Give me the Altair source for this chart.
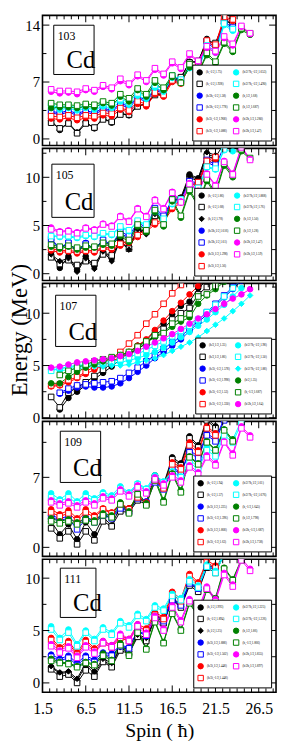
import altair as alt
import pandas as pd

FONT = "Liberation Serif"

# ---------------- x axis -----------------
SPIN_LABELS = [1.5, 6.5, 11.5, 16.5, 21.5, 26.5]
SPIN_RANGE = [1.5, 28.5]

BLACK, BLUE, RED = "#000000", "#0000ff", "#ff0000"
CYAN, GREEN, MAGENTA = "#00ffff", "#008000", "#ff00ff"

# ---------------- 103Cd  (values from spin 2.5 upward, step 1) ----------------
cd103_black_o = [2.3,1.1,2.0,0.8,2.1,1.3,2.6,2.0,3.2,2.9,4.2,4.2,5.5,5.5,7.3,7.4,9.5,9.4,12.3,11.6,14.6,14.2]
cd103_black_s = [2.0,1.3,1.9,0.7,1.9,1.4,2.4,2.1,3.0,3.0,4.0,4.3,5.4,5.6,7.2,7.6,9.4,9.6,12.0,11.8,14.4,14.3]
cd103_blue_o = [3.2,3.0,3.3,2.9,3.3,3.0,3.6,3.3,4.2,3.8,5.0,4.6,6.0,5.6,7.3,7.0,8.8,8.6,11.8,11.1,14.2,13.5]
cd103_blue_s = [3.4,3.2,3.5,3.1,3.5,3.2,3.8,3.5,4.4,4.0,5.2,4.8,6.2,5.8,7.5,7.2,9.0,8.8,12.0,11.3,14.4,13.7]
cd103_red_o = [2.5,2.4,2.6,2.3,2.6,2.5,2.9,2.8,3.6,3.3,4.3,4.0,5.5,5.2,7.0,6.8,8.9,8.9,11.9,11.4,14.8,14.5]
cd103_red_s = [2.8,2.7,2.9,2.6,2.9,2.8,3.2,3.1,3.8,3.5,4.6,4.3,5.7,5.4,7.2,7.0,9.1,9.0,12.1,11.6,15.0,14.7]
cd103_cyan_o = [3.8,3.6,3.8,3.5,3.8,3.6,4.0,3.8,4.6,4.2,5.3,4.9,6.3,5.8,7.5,7.1,8.7,8.5,11.3,10.6,14.0,13.3]
cd103_cyan_s = [4.1,3.9,4.1,3.8,4.1,3.9,4.3,4.1,4.9,4.5,5.6,5.2,6.6,6.1,7.8,7.3,8.9,8.7,11.5,10.8,14.2,13.5]
cd103_green_o = [3.8,3.9,3.9,3.8,4.0,3.9,4.4,4.1,5.2,4.6,6.0,5.2,6.9,6.0,7.6,7.0,8.8,8.1,10.3,9.3,11.7,10.7,13.4,12.8]
cd103_green_s = [4.4,4.2,4.2,4.1,4.3,4.2,4.6,4.4,5.5,5.0,6.2,5.5,7.2,6.3,7.8,6.9,9.2,8.0,10.6,9.5,11.9,10.9,13.6,13.0]
cd103_mag_o = [5.8,5.6,5.7,5.5,6.0,5.8,6.4,6.1,7.1,6.6,7.7,7.0,8.5,7.8,9.3,8.6,10.3,9.5,11.2,10.6,12.4,11.5,13.8,12.9]
cd103_mag_s = [6.1,5.9,5.9,5.8,6.2,6.0,6.6,6.3,7.4,6.8,7.9,7.2,8.7,8.0,9.5,8.8,10.5,9.6,11.4,10.8,12.6,11.7,13.9,13.0]
cd103_labels = ["(h,-1/2,1.75)", "(h,-1/2,1.928)", "(h/2h,-1/2,1.58)", "(h/2h,-1/2,1.778)",
                "(h/2i,-1/2,1.968)", "(h/2i,-1/2,1.088)", "(h/2/7h,-1/2,1.653)", "(h/2/7h,-1/2,1.490)",
                "(h,1/2,1.68)", "(h,1/2,1.687)", "(h/2h,1/2,1.280)", "(h/2h,1/2,1.47)"]

# ---------------- 105Cd ----------------
cd105_black_o = [2.2,0.6,1.8,0.4,1.8,0.8,2.5,1.6,3.7,2.8,4.7,4.3,6.4,5.5,7.6,7.9,10.3,9.9,12.4,12.1,13.5]
cd105_black_s = [1.7,1.0,1.4,0.9,1.3,1.1,2.0,1.9,3.2,2.6,4.5,4.4,6.0,5.6,7.5,7.8,10.0,9.6,12.2,11.9]
cd105_black_d = [2.0,1.3,1.6,0.2,1.6,0.5,2.3,1.3,3.5,2.5,4.6,4.1,6.2,5.3,7.4,7.6,10.1,9.8,12.6,12.3]
cd105_blue_o = [3.5,2.5,3.3,2.2,3.2,2.5,3.4,2.8,4.2,3.7,5.1,4.6,6.6,5.8,7.5,7.4,9.4,9.2,11.6,11.1,13.3]
cd105_blue_s = [3.6,2.7,3.2,2.4,3.1,2.6,3.5,3.0,4.4,3.9,5.3,4.8,6.8,6.0,7.7,7.6,9.6,9.4,11.8,11.3]
cd105_red_o = [2.4,2.2,2.3,2.1,2.3,2.2,2.6,2.5,2.9,3.2,3.8,4.4,5.1,5.4,6.7,7.4,8.9,9.3,11.5,11.9]
cd105_red_s = [2.6,2.4,2.4,2.3,2.4,2.4,2.7,2.7,3.1,3.4,4.0,4.6,5.3,5.6,6.9,7.6,9.1,9.5,11.7,12.1]
cd105_cyan_o = [4.0,3.8,3.8,3.7,3.9,3.8,4.1,4.0,4.8,4.4,5.4,5.0,6.4,5.6,7.2,7.6,9.0,8.8,11.0,10.8,12.8,12.7]
cd105_cyan_s = [3.9,3.9,3.9,3.8,4.0,3.9,4.2,4.1,4.9,4.5,5.5,5.1,6.5,5.7,7.3,7.7,9.1,8.9,11.1,10.9,12.9]
cd105_green_o = [2.8,2.6,2.8,2.5,2.7,2.7,3.0,2.9,3.9,3.3,4.9,4.3,6.4,4.9,7.5,5.8,8.5,7.0,9.6,8.2,11.2,10.0,12.7,11.9]
cd105_green_s = [3.0,2.8,2.9,2.7,2.9,2.8,3.2,3.1,4.1,3.5,5.1,4.5,6.6,5.1,7.7,6.0,8.7,7.2,9.8,8.4,11.4,10.2,12.9,12.0]
cd105_mag_o = [4.8,4.4,4.5,4.3,4.8,4.6,5.2,5.0,6.0,5.5,6.8,6.0,7.7,6.8,8.5,7.5,9.4,8.6,10.4,9.2,11.7,10.4,13.2,11.9]
cd105_mag_s = [4.6,4.3,4.4,4.2,4.7,4.5,5.1,4.9,5.9,5.4,6.7,5.9,7.6,6.7,8.4,7.4,9.3,8.5,10.3,9.1,11.6,10.3,13.1,11.8]
cd105_labels = ["(h,-1/2,1.86)", "(h,-1/2,1.68)", "(h,1/2,1.78)", "(h/2h,1/2,1.616)", "(h/2h,1/2,1.61)",
                "(h/2i,1/2,1.298)", "(h/2i,1/2,1.56)", "(h/2/7h,1/2,1.888)", "(h/2/7h,1/2,1.76)",
                "(h,1/2,1.50)", "(h,1/2,1.28)", "(h/2h,1/2,1.47)", "(h/2h,1/2,1.59)"]

# ---------------- 107Cd ----------------
cd107_black_o = [0.8,1.9,2.5,3.1,3.7,4.3,4.9,5.6,6.3,6.9,7.4,8.3,9.0,9.9,10.7,11.1,12.4,13.1]          # from 3.5
cd107_black_s = [2.0,1.0,2.4,2.9,3.4,4.0,4.6,5.2,5.8,6.1,6.6,7.1,7.9,8.5,9.4,10.0,10.5,11.8,12.5,13.2]  # from 2.5
cd107_blue_o = [2.3,2.6,2.9,3.0,2.9,2.9,3.0,3.3,3.8,4.4,5.0,5.7,6.3,6.9,7.5,8.3,9.1,9.9,10.7,11.5,12.3,13.1]  # from 3.5
cd107_blue_s = [2.4,2.8,3.1,3.2,3.3,3.4,3.5,3.8,4.3,4.8,5.4,6.0,6.6,7.2,7.8,8.5,9.3,10.1,10.9,11.7,12.5,13.3]  # from 3.5
cd107_red_o = [3.0,3.1,3.4,3.8,4.2,4.6,5.0,5.4,5.8,6.3,6.9,7.5,8.4,9.3,10.2,11.0,11.8,12.6,13.3]
cd107_red_s = [3.1,3.2,3.6,3.9,4.4,4.9,5.3,5.7,6.3,7.1,7.9,9.0,9.9,10.9,11.9,12.7,13.5]
cd107_cyan_o = [4.6,4.7,4.8,4.9,5.0,5.1,5.1,5.2,5.3,5.5,5.7,6.0,6.3,6.7,7.2,7.7,8.2,8.8,9.4,10.1,10.8,11.6,12.4]
cd107_cyan_s = [4.5,4.7,4.9,5.0,5.1,5.2,5.3,5.4,5.6,5.8,6.1,6.5,6.9,7.3,7.8,8.3,8.8,9.4,10.1,10.8,11.6,12.4,13.2]
cd107_cyan_d = [4.5,4.6,4.7,4.8,4.9,4.9,5.0,5.0,5.1,5.3,5.5,5.7,6.0,6.4,6.8,7.2,7.7,8.3,8.9,9.5,10.2,10.9,11.7]  # from 3.5
cd107_green_o = [3.3,3.3,3.9,4.4,4.8,5.1,5.4,5.7,6.0,6.2,6.6,7.2,7.7,8.1,8.7,9.2,9.6,10.9,11.7,12.3,13.0]
cd107_green_s = [4.1,4.5,4.8,5.1,5.4,5.6,5.8,6.0,6.3,6.8,7.3,7.9,8.1,9.0,9.5,9.9,11.6,11.8,12.6]  # from 3.5
cd107_mag_o = [4.8,4.9,5.1,5.3,5.4,5.5,5.6,5.7,5.9,6.1,6.4,6.8,7.2,7.6,8.0,8.5,9.0,9.5,9.9,10.4,10.9,11.4,11.8,12.3]
cd107_labels = ["(h/2,1/2,1.35)", "(h/2,1/2,1.86)", "(h/2i,-1/2,1.578)", "(h/2i,-1/2,1.998)",
                "(h/2i,-1/2,1.53)", "(h/2i,-1/2,1.330)", "(h/2/7h,-1/2,1.98)", "(h/2/7h,-1/2,1.50)",
                "(h/2/7h,-1/2,1.88)", "(h/2,1.35)", "(h,-1/2,1.687)", "(h/2h,1/2,1.64)"]

# ---------------- 109Cd ----------------
cd109_black_o = [2.6,1.3,2.3,0.8,2.5,1.3,3.0,2.2,4.1,3.9,4.9,4.5,7.2,6.3,9.0,8.4,11.1,10.2,12.9,12.1]
cd109_black_s = [1.9,0.9,1.6,0.3,1.6,0.7,2.6,2.1,3.6,3.5,4.7,4.3,7.0,6.1,8.8,8.2,10.9,10.0,12.7,11.9]
cd109_blue_o = [3.2,2.9,3.1,2.3,3.0,2.7,3.3,3.0,4.0,3.7,5.0,4.6,6.6,5.9,8.0,7.5,9.7,9.1,11.4,10.8,12.9]
cd109_blue_s = [3.0,2.7,2.9,1.8,2.8,2.5,3.2,2.9,3.9,3.6,4.9,4.5,6.5,5.8,7.8,7.4,9.5,8.9,11.2,10.6,12.7]
cd109_red_o = [3.8,3.3,3.7,2.9,3.8,3.2,3.9,3.5,4.4,3.9,5.1,4.5,6.8,6.0,8.5,8.0,10.5,9.7,12.1,11.4]
cd109_red_s = [3.5,3.1,3.4,2.7,3.5,3.0,3.8,3.4,4.3,3.8,5.0,4.4,6.7,5.9,8.3,7.8,10.2,9.5,11.9,11.2]
cd109_cyan_o = [5.4,4.8,5.4,4.6,5.4,4.9,5.5,5.2,6.1,5.5,6.4,5.9,7.2,6.6,7.6,7.1,8.8,8.0,10.0,9.4,11.5,10.8,12.7]
cd109_cyan_s = [5.0,4.6,5.0,4.4,5.0,4.7,5.3,5.0,5.9,5.4,6.3,5.8,7.0,6.5,7.5,7.0,8.5,7.8,9.7,9.1,11.2,10.5,12.4]
cd109_green_o = [2.9,2.6,2.8,2.5,2.9,2.7,3.4,3.2,4.5,3.6,5.5,4.4,6.9,4.7,7.4,5.7,9.1,8.4,10.6,9.8,11.8,10.8]
cd109_green_s = [2.6,2.4,2.6,2.3,2.7,2.5,3.2,3.0,4.3,3.4,5.3,4.2,6.7,4.5,7.3,5.5,9.0,8.3,10.5,9.7,11.7,10.6]
cd109_mag_o = [4.7,4.4,4.6,4.2,4.7,4.4,5.1,4.9,5.8,5.3,6.2,5.6,7.0,6.4,7.2,6.7,8.2,7.5,9.2,8.4,10.6,9.4,12.1,11.2]
cd109_mag_s = [4.5,4.2,4.4,4.0,4.5,4.2,4.9,4.7,5.6,5.1,6.0,5.4,6.8,6.2,7.0,6.5,8.0,7.3,9.0,8.2,10.5,9.2,11.9,11.0]
cd109_labels = ["(h,-1/2,1.94)", "(h,-1/2,1.57)", "(h/2i,1/2,1.225)", "(h/2i,-1/2,1.396)",
                "(h/2i,1/2,1.868)", "(h/2i,-1/2,1.63)", "(h/2/7h,1/2,1.61)", "(h/2/7h,-1/2,1.676)",
                "(h,-1/2,1.645)", "(h,1/2,1.798)", "(h/2h,-1/2,1.687)", "(h/2h,1/2,1.738)"]

# ---------------- 111Cd ----------------
cd111_black_o = [1.5,0.9,1.0,0.2,1.7,0.9,2.1,1.7,3.3,3.0,4.5,4.1,6.3,5.8,8.0,7.3,9.5,8.9,11.2,10.7,12.5]
cd111_black_s = [1.3,0.6,0.8,0.0,1.2,0.6,2.0,1.5,3.1,2.8,4.4,4.0,6.1,5.7,7.9,7.2,9.3,8.7,11.0,10.5,12.3]
cd111_black_d = [1.6,1.0,1.1,0.4,1.9,1.1,2.3,1.9,3.4,3.2,4.6,4.3,6.4,6.0,8.1,7.5,9.6,9.1,11.3,10.9]
cd111_blue_o = [2.7,2.3,2.6,1.9,2.6,2.2,2.9,2.8,3.6,3.4,5.0,4.6,6.6,6.0,8.0,7.5,9.6,9.1,11.2,10.9]
cd111_blue_s = [2.5,2.1,2.4,1.7,2.4,2.0,2.7,2.6,3.5,3.3,4.9,4.5,6.5,5.9,7.9,7.4,9.5,9.0,11.1,10.8]
cd111_red_o = [4.3,3.4,4.0,2.9,4.1,3.3,4.0,3.6,4.5,4.2,5.6,5.2,6.7,6.3,8.7,8.0,10.4,9.6,11.7,11.2]
cd111_red_s = [4.1,3.2,3.8,2.7,3.9,3.1,3.8,3.4,4.3,4.0,5.4,5.0,6.5,6.1,8.5,7.8,10.2,9.4,11.5,11.0]
cd111_cyan_o = [5.4,4.3,5.1,3.7,5.0,4.2,5.3,4.8,5.9,5.5,6.6,6.1,7.4,7.1,8.5,8.1,9.9,9.3,11.3,10.7,12.4]
cd111_cyan_s = [5.1,4.1,4.8,3.5,4.8,4.0,5.1,4.6,5.7,5.3,6.4,5.9,7.2,6.9,8.3,7.9,9.7,9.1,11.1,10.5,12.2]
cd111_green_o = [2.3,2.0,1.9,1.6,2.0,1.8,2.8,2.2,3.8,2.7,5.0,3.3,5.9,3.9,6.7,5.1,7.7,6.4,9.0,8.1,11.0,9.9,11.8]
cd111_green_s = [2.1,1.9,1.8,1.5,1.9,1.7,2.6,2.1,3.6,2.6,4.8,3.2,5.8,3.8,6.6,5.0,7.6,6.3,8.9,8.0,10.9,9.8,11.7]
cd111_mag_o = [3.7,3.1,3.5,2.6,3.6,3.0,4.0,3.6,4.7,4.2,5.6,4.8,6.4,5.2,7.4,6.0,8.0,7.0,9.2,8.0,10.5,9.4,11.9,10.9]
cd111_mag_s = [3.5,2.9,3.3,2.4,3.4,2.8,3.8,3.4,4.5,4.0,5.4,4.6,6.2,5.0,7.2,5.8,7.8,6.8,9.0,7.8,10.3,9.2,11.7,10.7]
cd111_labels = ["(h,1/2,1.993)", "(h,-1/2,1.894)", "(h,1/2,1.25)", "(h/2i,1/2,1.888)", "(h/2i,-1/2,1.502)",
                "(h/2i,1/2,1.448)", "(h/2i,-1/2,1.448)", "(h/2/7h,1/2,1.225)", "(h/2/7h,-1/2,1.226)",
                "(h,1/2,1.86)", "(h,-1/2,1.866)", "(h/2h,1/2,1.855)", "(h/2h,1/2,1.897)"]


def series_list(labels, entries):
    # entries: (colour, marker, first spin, values)
    return [(lab,) + e for lab, e in zip(labels, entries)]


PANELS = [
    dict(mass="103", domain=[-0.8, 15.2], major=[0, 7, 14], minor=[3.5, 10.5], height=132,
         box=(12, 55, 10, 60),
         series=series_list(cd103_labels, [
             (BLACK, "o", 2.5, cd103_black_o), (BLACK, "s", 2.5, cd103_black_s),
             (BLUE, "o", 2.5, cd103_blue_o), (BLUE, "s", 2.5, cd103_blue_s),
             (RED, "o", 2.5, cd103_red_o), (RED, "s", 2.5, cd103_red_s),
             (CYAN, "o", 2.5, cd103_cyan_o), (CYAN, "s", 2.5, cd103_cyan_s),
             (GREEN, "o", 2.5, cd103_green_o), (GREEN, "s", 2.5, cd103_green_s),
             (MAGENTA, "o", 2.5, cd103_mag_o), (MAGENTA, "s", 2.5, cd103_mag_s)])),
    dict(mass="105", domain=[-0.7, 13.0], major=[0, 5, 10], minor=[2.5, 7.5, 12.5], height=134,
         box=(10, 55, 16, 70),
         series=series_list(cd105_labels, [
             (BLACK, "o", 2.5, cd105_black_o), (BLACK, "s", 2.5, cd105_black_s),
             (BLACK, "d", 2.5, cd105_black_d),
             (BLUE, "o", 2.5, cd105_blue_o), (BLUE, "s", 2.5, cd105_blue_s),
             (RED, "o", 2.5, cd105_red_o), (RED, "s", 2.5, cd105_red_s),
             (CYAN, "o", 2.5, cd105_cyan_o), (CYAN, "s", 2.5, cd105_cyan_s),
             (GREEN, "o", 2.5, cd105_green_o), (GREEN, "s", 2.5, cd105_green_s),
             (MAGENTA, "o", 2.5, cd105_mag_o), (MAGENTA, "s", 2.5, cd105_mag_s)])),
    dict(mass="107", domain=[-0.05, 12.85], major=[0, 5, 10], minor=[2.5, 7.5, 12.5], height=137,
         box=(14, 57, 12, 64), ytitle=True,
         series=series_list(cd107_labels, [
             (BLACK, "o", 3.5, cd107_black_o), (BLACK, "s", 2.5, cd107_black_s),
             (BLUE, "o", 3.5, cd107_blue_o), (BLUE, "s", 3.5, cd107_blue_s),
             (RED, "o", 2.5, cd107_red_o), (RED, "s", 2.5, cd107_red_s),
             (CYAN, "o", 2.5, cd107_cyan_o), (CYAN, "s", 2.5, cd107_cyan_s),
             (CYAN, "d", 3.5, cd107_cyan_d),
             (GREEN, "o", 2.5, cd107_green_o), (GREEN, "s", 3.5, cd107_green_s),
             (MAGENTA, "o", 2.5, cd107_mag_o)])),
    dict(mass="109", domain=[-0.9, 12.6], major=[0, 7], minor=[3.5, 10.5], height=137,
         box=(19, 62, 10, 62),
         series=series_list(cd109_labels, [
             (BLACK, "o", 2.5, cd109_black_o), (BLACK, "s", 2.5, cd109_black_s),
             (BLUE, "o", 2.5, cd109_blue_o), (BLUE, "s", 2.5, cd109_blue_s),
             (RED, "o", 2.5, cd109_red_o), (RED, "s", 2.5, cd109_red_s),
             (CYAN, "o", 2.5, cd109_cyan_o), (CYAN, "s", 2.5, cd109_cyan_s),
             (GREEN, "o", 2.5, cd109_green_o), (GREEN, "s", 2.5, cd109_green_s),
             (MAGENTA, "o", 2.5, cd109_mag_o), (MAGENTA, "s", 2.5, cd109_mag_s)])),
    dict(mass="111", domain=[-0.9, 11.8], major=[0, 5, 10], minor=[2.5, 7.5], height=135,
         box=(19, 57, 9, 59),
         series=series_list(cd111_labels, [
             (BLACK, "o", 2.5, cd111_black_o), (BLACK, "s", 2.5, cd111_black_s),
             (BLACK, "d", 2.5, cd111_black_d),
             (BLUE, "o", 2.5, cd111_blue_o), (BLUE, "s", 2.5, cd111_blue_s),
             (RED, "o", 2.5, cd111_red_o), (RED, "s", 2.5, cd111_red_s),
             (CYAN, "o", 2.5, cd111_cyan_o), (CYAN, "s", 2.5, cd111_cyan_s),
             (GREEN, "o", 2.5, cd111_green_o), (GREEN, "s", 2.5, cd111_green_s),
             (MAGENTA, "o", 2.5, cd111_mag_o), (MAGENTA, "s", 2.5, cd111_mag_s)])),
]

W = 237
SX = W / 249.0
SHAPES = {"o": "circle", "s": "square", "d": "diamond"}

x_minor = []
_v = SPIN_RANGE[0]
while _v <= SPIN_RANGE[1] + 1e-9:
    if all(abs(_v - m) > 1e-6 for m in SPIN_LABELS):
        x_minor.append(round(_v, 4))
    _v += 5.0 / 6.0


def build_panel(p, is_last):
    H = p["height"]
    rows = []
    for lab, col, mk, start, vals in p["series"]:
        for k, v in enumerate(vals):
            rows.append({"s": lab, "spin": start + k, "E": v})
    df = pd.DataFrame(rows)

    order = p["series"]
    dom = [o[0] for o in order]
    strokes = [o[1] for o in order]
    fills = [o[1] if o[2] in ("o", "d") else "#ffffff" for o in order]
    shapes = [SHAPES[o[2]] for o in order]

    xscale = alt.Scale(domain=SPIN_RANGE, nice=False, zero=False)
    yscale = alt.Scale(domain=p["domain"], nice=False, zero=False)

    if is_last:
        xaxis = alt.Axis(values=SPIN_LABELS, format=".1f", ticks=False, domain=False, grid=False,
                         labelFontSize=16, labelPadding=8, labelFlush=False,
                         title="Spin ( ħ)", titleFontSize=20, titleFontWeight="normal",
                         titlePadding=5)
    else:
        xaxis = None

    ykw = dict(values=p["major"], format="d", ticks=False, domain=False, grid=False,
               labelFontSize=15, labelPadding=3)
    if p.get("ytitle"):
        ykw.update(title="Energy (MeV)", titleFontSize=23, titleFontWeight="normal",
                   titleAngle=270, titleX=-16, titleY=47, titleBaseline="alphabetic",
                   titleAlign="center")
    else:
        ykw.update(title=None)
    yaxis = alt.Axis(**ykw)

    def xenc(f):
        return alt.X(f, scale=xscale, axis=xaxis)

    def yenc(f):
        return alt.Y(f, scale=yscale, axis=yaxis)

    leg = alt.Legend(title=None, orient="bottom-right", offset=5, columns=2,
                     symbolSize=30, symbolStrokeWidth=1, labelFontSize=3.2, labelFont=FONT,
                     labelLimit=60, rowPadding=1, columnPadding=3, padding=4,
                     strokeColor="black", fillColor="white", labelOffset=3)

    base = alt.Chart(df)
    lines = base.mark_line(strokeWidth=1, clip=True).encode(
        x=xenc("spin:Q"), y=yenc("E:Q"),
        stroke=alt.Stroke("s:N", scale=alt.Scale(domain=dom, range=strokes), legend=leg),
    )
    pts = base.mark_point(filled=True, size=32, opacity=1, strokeWidth=1, clip=True).encode(
        x=xenc("spin:Q"), y=yenc("E:Q"),
        stroke=alt.Stroke("s:N", scale=alt.Scale(domain=dom, range=strokes), legend=leg),
        fill=alt.Fill("s:N", scale=alt.Scale(domain=dom, range=fills), legend=leg),
        shape=alt.Shape("s:N", scale=alt.Scale(domain=dom, range=shapes), legend=leg),
    )

    xmaj = alt.Chart(pd.DataFrame({"v": SPIN_LABELS}))
    xmin = alt.Chart(pd.DataFrame({"v": x_minor}))
    ymaj = alt.Chart(pd.DataFrame({"v": p["major"]}))
    ymin = alt.Chart(pd.DataFrame({"v": p["minor"]}))
    rk = dict(color="black", strokeWidth=1)
    ticks = [
        xmaj.mark_rule(**rk).encode(x=xenc("v:Q"), y=alt.value(H), y2=alt.value(H - 7)),
        xmaj.mark_rule(**rk).encode(x=xenc("v:Q"), y=alt.value(0), y2=alt.value(7)),
        xmin.mark_rule(**rk).encode(x=xenc("v:Q"), y=alt.value(H), y2=alt.value(H - 4)),
        xmin.mark_rule(**rk).encode(x=xenc("v:Q"), y=alt.value(0), y2=alt.value(4)),
        ymaj.mark_rule(**rk).encode(y=yenc("v:Q"), x=alt.value(0), x2=alt.value(7)),
        ymaj.mark_rule(**rk).encode(y=yenc("v:Q"), x=alt.value(W), x2=alt.value(W - 7)),
        ymin.mark_rule(**rk).encode(y=yenc("v:Q"), x=alt.value(0), x2=alt.value(4)),
        ymin.mark_rule(**rk).encode(y=yenc("v:Q"), x=alt.value(W), x2=alt.value(W - 4)),
    ]

    x0, x1, y0, y1 = p["box"]
    one = alt.Chart(pd.DataFrame({"a": [0]}))
    box = one.mark_rect(fill="white", stroke="black", strokeWidth=1).encode(
        x=alt.value(x0 * SX), x2=alt.value(x1 * SX), y=alt.value(y0), y2=alt.value(y1))
    mass = one.mark_text(text=p["mass"], font=FONT, fontSize=12, align="left",
                         baseline="alphabetic", color="black").encode(
        x=alt.value(x0 * SX + 4), y=alt.value(y0 + 15))
    elem = one.mark_text(text="Cd", font=FONT, fontSize=25, align="left",
                         baseline="alphabetic", color="black").encode(
        x=alt.value(x0 * SX + 13), y=alt.value(y1 - 7))

    return alt.layer(lines, pts, *ticks, box, mass, elem).properties(width=W, height=H)


charts = [build_panel(p, i == len(PANELS) - 1) for i, p in enumerate(PANELS)]

chart = alt.vconcat(*charts, spacing=3, bounds="flush").resolve_scale(
    y="independent", stroke="independent", fill="independent", shape="independent"
).resolve_legend(
    stroke="independent", fill="independent", shape="independent"
).properties(
    padding=0
).configure_view(
    stroke="black", strokeWidth=1.6
).configure_axis(
    labelFont=FONT, titleFont=FONT, labelColor="black", titleColor="black"
).configure_legend(
    labelFont=FONT
)

chart.save("out.html", embed_options={"renderer": "svg", "actions": False})
